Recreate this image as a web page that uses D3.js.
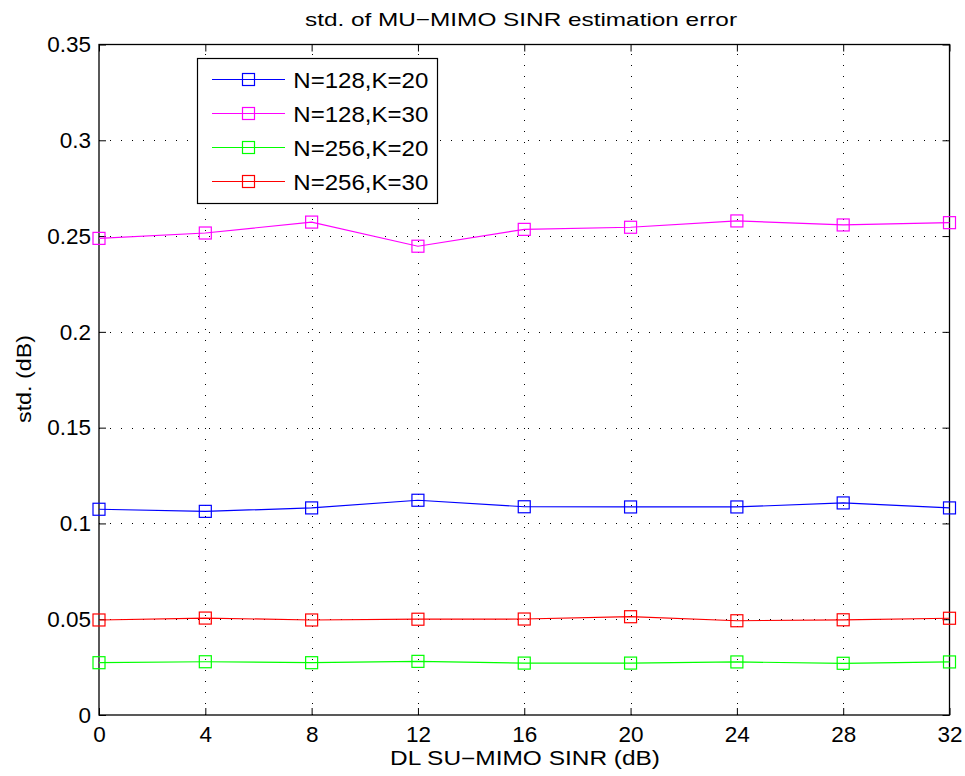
<!DOCTYPE html>
<html><head><meta charset="utf-8">
<script src="https://cdn.jsdelivr.net/npm/d3@7"></script>
<style>body{margin:0;background:#fff}svg{display:block}text{font-family:"Liberation Sans",Arial,sans-serif;fill:#000}</style>
</head><body><svg id="c" width="965" height="776"></svg>
<script>
const xValues = [0, 4, 8, 12, 16, 20, 24, 28, 32];
const xTicks = [0, 4, 8, 12, 16, 20, 24, 28, 32];
const yTicks = [0, 0.05, 0.1, 0.15, 0.2, 0.25, 0.3, 0.35];
const yTickLabels = ["0", "0.05", "0.1", "0.15", "0.2", "0.25", "0.3", "0.35"];
const seriesNames = ["N=128,K=20", "N=128,K=30", "N=256,K=20", "N=256,K=30"];
const seriesColors = ["#0000ff", "#ff00ff", "#00ff00", "#ff0000"];
const n128k20 = [0.1074, 0.1063, 0.1081, 0.1121, 0.1087, 0.1086, 0.1086, 0.1107, 0.1081];
const n128k30 = [0.2488, 0.2516, 0.2573, 0.2447, 0.2535, 0.2546, 0.2579, 0.2558, 0.2570];
const n256k20 = [0.0273, 0.0278, 0.0273, 0.0280, 0.0271, 0.0271, 0.0277, 0.0270, 0.0277];
const n256k30 = [0.0496, 0.0506, 0.0496, 0.0500, 0.0501, 0.0513, 0.0492, 0.0497, 0.0505];
const seriesValues = [n128k20, n128k30, n256k20, n256k30];

const L = 99, R = 949.5, T = 44.5, B = 715;
const svg = d3.select("#c");
const x = d3.scaleLinear().domain([0, 32]).range([L, R]);
const y = d3.scaleLinear().domain([0, 0.35]).range([B, T]);

// grid
const grid = svg.append("g").attr("stroke", "#000").attr("stroke-width", 1).attr("stroke-dasharray", "1,10");
xTicks.slice(1, -1).forEach(t => grid.append("line").attr("x1", Math.round(x(t)) + 0.5).attr("x2", Math.round(x(t)) + 0.5).attr("y1", B).attr("y2", T));
yTicks.slice(1, -1).forEach(t => grid.append("line").attr("y1", Math.round(y(t)) + 0.5).attr("y2", Math.round(y(t)) + 0.5).attr("x1", L).attr("x2", R));

// axes
const fmt = d => yTickLabels[yTicks.indexOf(d)];
const ax = (gen, tr) => svg.append("g").attr("transform", tr).call(gen);
const styleAxis = g => { g.select(".domain").remove(); g.selectAll("line").attr("stroke", "#000"); g.selectAll("text").attr("font-size", 22.5).attr("font-family", '"Liberation Sans",Arial,sans-serif'); };
ax(d3.axisBottom(x).tickValues(xTicks).tickSize(-7).tickPadding(11).tickFormat(d3.format("d")), `translate(0,${B})`).call(styleAxis);
ax(d3.axisTop(x).tickValues(xTicks).tickSize(-7).tickFormat(""), `translate(0,${T})`).call(styleAxis);
ax(d3.axisLeft(y).tickValues(yTicks).tickSize(-7).tickPadding(8).tickFormat(fmt), `translate(${L},0)`).call(styleAxis);
ax(d3.axisRight(y).tickValues(yTicks).tickSize(-7).tickFormat(""), `translate(${R},0)`).call(styleAxis);
svg.append("rect").attr("x", L).attr("y", T).attr("width", R - L).attr("height", B - T).attr("fill", "none").attr("stroke", "#000").attr("stroke-width", 1.3);

// series
const line = d3.line().x((d, i) => x(xValues[i])).y(d => y(d));
seriesValues.forEach((vals, si) => {
  const g = svg.append("g");
  g.append("path").datum(vals).attr("d", line).attr("fill", "none").attr("stroke", seriesColors[si]).attr("stroke-width", 1.2);
  g.selectAll("rect").data(vals).join("rect")
    .attr("x", (d, i) => x(xValues[i]) - 6).attr("y", d => y(d) - 6).attr("width", 12).attr("height", 12)
    .attr("fill", "none").attr("stroke", seriesColors[si]).attr("stroke-width", 1.2);
});

// legend
const lg = svg.append("g");
lg.append("rect").attr("x", 197.5).attr("y", 58.5).attr("width", 240).attr("height", 145).attr("fill", "#fff").attr("stroke", "#000").attr("stroke-width", 1.2);
seriesNames.forEach((name, i) => {
  const cy = 79.5 + i * 34;
  lg.append("line").attr("x1", 212).attr("x2", 285).attr("y1", cy).attr("y2", cy).attr("stroke", seriesColors[i]).attr("stroke-width", 1.2);
  lg.append("rect").attr("x", 242.5).attr("y", cy - 6).attr("width", 12).attr("height", 12).attr("fill", "none").attr("stroke", seriesColors[i]).attr("stroke-width", 1.2);
  lg.append("text").attr("x", 293.3).attr("y", cy + 8.2).attr("font-size", 22.3)
    .attr("textLength", 135).attr("lengthAdjust", "spacingAndGlyphs").text(name);
});

// labels
svg.append("text").attr("x", 305).attr("y", 26).attr("font-size", 18.5)
  .attr("textLength", 432).attr("lengthAdjust", "spacingAndGlyphs").text("std. of MU\u2212MIMO SINR estimation error");
svg.append("text").attr("x", 390).attr("y", 765).attr("font-size", 19.5)
  .attr("textLength", 270).attr("lengthAdjust", "spacingAndGlyphs").text("DL SU\u2212MIMO SINR (dB)");
svg.append("text").attr("transform", "translate(31,423) rotate(-90)").attr("font-size", 19.5)
  .attr("textLength", 88).attr("lengthAdjust", "spacingAndGlyphs").text("std. (dB)");
</script></body></html>
